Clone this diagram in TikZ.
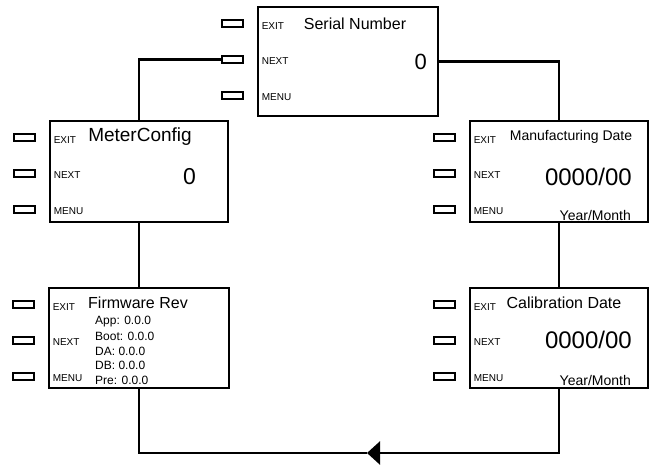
\documentclass[tikz,border=0pt]{standalone}
\usepackage{fontspec}
\setmainfont{Liberation Sans}
\usetikzlibrary{arrows.meta, calc}
\tikzset{
  every picture/.style={line width=2.4pt},
  screen/.style={draw, line width=2.8pt, rectangle, inner sep=0pt, minimum width=178pt, minimum height=101pt},
  btn/.style={draw, line width=2.2pt, rectangle, inner sep=0pt, minimum width=21pt, minimum height=7pt},
  keylabel/.style={font=\fontsize{10}{12}\selectfont, anchor=west, inner sep=0pt},
  heading/.style={font=\fontsize{#1}{#1}\selectfont, inner sep=0pt},
  heading/.default=16,
  value/.style={font=\fontsize{#1}{#1}\selectfont, anchor=east, inner sep=0pt},
  value/.default=24,
  unit/.style={font=\fontsize{14}{16}\selectfont, anchor=east, inner sep=0pt},
  link/.style={line width=2.4pt},
}
\begin{document}
\begin{tikzpicture}[x=1pt, y=-1pt]
  \useasboundingbox (0,0) rectangle (652,465);
  % the five screens
  \node[screen, minimum width=180pt, minimum height=109pt] (serial) at (348,61.5) {};
  \node[screen] (meter) at (139,171.5) {};
  \node[screen] (mfg) at (559,171.5) {};
  \node[screen, minimum width=180pt, minimum height=100pt] (fw) at (139,338) {};
  \node[screen, minimum height=100pt] (cal) at (559,338) {};
  % keys beside each screen
  \foreach \b in {serial, meter, mfg, fw, cal} {
    \foreach \k/\dy/\ly in {EXIT/18/20, NEXT/54/55, MENU/90/92} {
      \node[btn] (\b-\k) at ($(\b.north west)+(-24,\dy)$) {};
      \node[keylabel] (\b-\k-lab) at ($(\b.north west)+(4,\ly)$) {\k};
    }
  }
  % screen texts
  \node[heading] (serial-title) at (355,24) {Serial Number};
  \node[value=22] (serial-val) at (428,62) {0};
  \node[heading=19] (meter-title) at (140,137) {MeterConfig};
  \node[value=23] (meter-val) at (197,177) {0};
  \node[heading=14] (mfg-title) at (571,137) {Manufacturing Date};
  \node[value] (mfg-val) at (633,177) {0000/00};
  \node[unit] (mfg-unit) at (632,215) {Year/Month};
  \node[heading] (fw-title) at (138,303) {Firmware Rev};
  \foreach \t [count=\i] in {App: 0.0.0, Boot: 0.0.0, DA: 0.0.0, DB: 0.0.0, Pre: 0.0.0}
    \node[font=\fontsize{12}{14}\selectfont, anchor=west, inner sep=0pt] (fw-line\i) at (94,307.5+14.5*\i) {\t};
  \node[heading] (cal-title) at (564,303) {Calibration Date};
  \node[value] (cal-val) at (633,340) {0000/00};
  \node[unit] (cal-unit) at (632,380) {Year/Month};
  % loop between the screens
  \coordinate (loopmid) at (367,453);
  \draw[link] (serial.east) -| (mfg.north);
  \draw[link] (mfg.south) -- (cal.north);
  \draw[link, -{Triangle[length=13pt, width=23pt]}] (cal.south) |- (loopmid);
  \draw[link] (loopmid) -| (fw.south);
  \draw[link] (fw.north) -- (meter.south);
  \draw[link] (meter.north) |- (serial-NEXT.west);
\end{tikzpicture}
\end{document}
